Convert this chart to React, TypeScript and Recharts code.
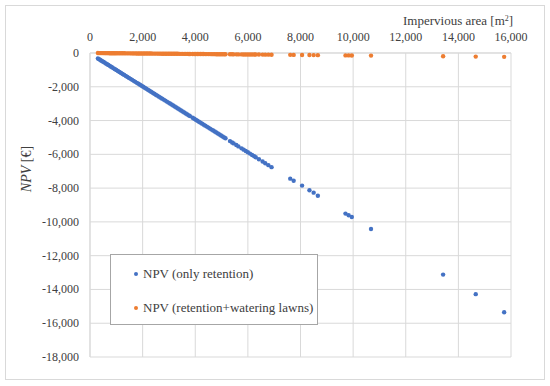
import {
  CartesianGrid,
  Legend,
  Scatter,
  ScatterChart,
  XAxis,
  YAxis,
} from "recharts";

// impervious area [m2] of each site
const areas = [
  300, 340, 380, 420, 460, 500, 550, 600, 650, 700, 750, 800, 850, 900, 950, 1000,
  1060, 1120, 1180, 1240, 1300, 1360, 1420, 1480, 1540, 1600, 1660, 1720, 1780, 1840,
  1900, 1960, 2020, 2080, 2140, 2200, 2260, 2320, 2380, 2440, 2500, 2560, 2620, 2680,
  2740, 2800, 2860, 2920, 2980, 3040, 3100, 3160, 3220, 3280, 3340, 3400, 3460, 3520,
  3580, 3640, 3700, 3760, 3800, 3900, 3960, 4020, 4080, 4140, 4200, 4260, 4320, 4380,
  4440, 4500, 4560, 4620, 4680, 4740, 4800, 4860, 4920, 4980, 5040, 5100, 5150, 5320,
  5400, 5460, 5560, 5640, 5760, 5840, 5920, 6000, 6080, 6160, 6240, 6300, 6420, 6560,
  6660, 6780, 6900, 7610, 7740, 8060, 8340, 8500, 8660, 9710, 9830, 9950, 10680, 13420,
  14660, 15740,
];

const npvRetention = [
  -323, -362, -401, -440, -479, -518, -566, -615, -664, -713, -761, -810, -859, -908, -956, -1005,
  -1064, -1122, -1181, -1239, -1298, -1356, -1415, -1473, -1532, -1590, -1649, -1707, -1766, -1824,
  -1883, -1941, -2000, -2058, -2117, -2175, -2234, -2292, -2351, -2409, -2468, -2526, -2585, -2643,
  -2702, -2760, -2819, -2877, -2936, -2994, -3053, -3111, -3170, -3228, -3287, -3345, -3404, -3462,
  -3521, -3579, -3638, -3696, -3735, -3833, -3891, -3950, -4008, -4067, -4125, -4184, -4242, -4301,
  -4359, -4418, -4476, -4535, -4593, -4652, -4710, -4769, -4827, -4886, -4944, -5003, -5051, -5217,
  -5295, -5354, -5451, -5529, -5646, -5724, -5802, -5880, -5958, -6036, -6114, -6173, -6290, -6426,
  -6524, -6641, -6758, -7440, -7560, -7850, -8130, -8270, -8450, -9510, -9610, -9710, -10420, -13120,
  -14280, -15350,
];

const npvWatering = [
  -4, -5, -6, -6, -7, -7, -8, -9, -9, -10, -11, -12, -12, -13, -14, -15,
  -15, -16, -17, -18, -19, -20, -21, -21, -22, -23, -24, -25, -26, -27,
  -28, -28, -29, -30, -31, -32, -33, -34, -35, -35, -36, -37, -38, -39,
  -40, -41, -41, -42, -43, -44, -45, -46, -47, -48, -48, -49, -50, -51,
  -52, -53, -54, -55, -55, -57, -57, -58, -59, -60, -61, -62, -63, -64,
  -64, -65, -66, -67, -68, -69, -70, -70, -71, -72, -73, -74, -75, -77,
  -78, -79, -81, -82, -84, -85, -86, -87, -88, -89, -90, -91, -93, -95,
  -97, -98, -100, -110, -112, -117, -121, -123, -126, -141, -143, -144, -155, -195,
  -213, -228,
];

const xTicks = [0, 2000, 4000, 6000, 8000, 10000, 12000, 14000, 16000];
const yTicks = [0, -2000, -4000, -6000, -8000, -10000, -12000, -14000, -16000, -18000];

const retentionData = areas.map((x, i) => ({ x, y: npvRetention[i] }));
const wateringData = areas.map((x, i) => ({ x, y: npvWatering[i] }));

const font = '"Liberation Serif", "DejaVu Serif", serif';
const textColor = "#404040";
const fmt = (v: number) => v.toLocaleString("en-US");

const dot = (color: string) => (props: any) =>
  <circle cx={props.cx} cy={props.cy} r={2.2} fill={color} />;

function XTick({ x, y, payload }: any) {
  return (
    <text x={x} y={y} textAnchor="middle" fill={textColor} style={{ fontFamily: font, fontSize: 12 }}>
      {fmt(payload.value)}
    </text>
  );
}

function YTick({ x, y, payload }: any) {
  return (
    <text x={x} y={y} dy={4} textAnchor="end" fill={textColor} style={{ fontFamily: font, fontSize: 12 }}>
      {fmt(payload.value)}
    </text>
  );
}

function LegendBox({ payload }: any) {
  return (
    <div
      style={{
        boxSizing: "border-box",
        width: 208,
        height: 71,
        paddingTop: 2,
        border: "1px solid #a6a6a6",
        background: "#fff",
        fontFamily: font,
        fontSize: 13,
        color: textColor,
      }}
    >
      {(payload || []).map((entry: any) => (
        <div key={entry.value} style={{ height: 34, display: "flex", alignItems: "center" }}>
          <span
            style={{
              display: "inline-block",
              width: 4,
              height: 4,
              borderRadius: 2,
              background: entry.color,
              marginLeft: 23,
              marginRight: 5,
            }}
          />
          <span>{entry.value}</span>
        </div>
      ))}
    </div>
  );
}

export default function App() {
  return (
    <div
      style={{
        position: "absolute",
        left: 5,
        top: 5,
        width: 538,
        height: 373,
        border: "1px solid #d9d9d9",
        background: "#fff",
        fontFamily: font,
      }}
    >
      <ScatterChart
        width={538}
        height={373}
        margin={{ top: 17, right: 33, bottom: 22, left: 24 }}
      >
        <CartesianGrid stroke="#d9d9d9" />
        <XAxis
          type="number"
          dataKey="x"
          orientation="top"
          domain={[0, 16000]}
          ticks={xTicks}
          height={30}
          tickLine={false}
          tickSize={6}
          tickMargin={6}
          axisLine={{ stroke: "#d9d9d9" }}
          tick={<XTick />}
        />
        <YAxis
          type="number"
          dataKey="y"
          domain={[-18000, 0]}
          ticks={yTicks}
          width={60}
          tickLine={false}
          tickSize={6}
          tickMargin={5}
          axisLine={{ stroke: "#d9d9d9" }}
          tick={<YTick />}
        />
        <Legend
          layout="vertical"
          align="center"
          verticalAlign="middle"
          content={<LegendBox />}
          wrapperStyle={{ left: 104, top: 248, width: 208, height: 71 }}
        />
        <Scatter
          name="NPV (only retention)"
          data={retentionData}
          fill="#4472c4"
          shape={dot("#4472c4")}
          isAnimationActive={false}
        />
        <Scatter
          name="NPV (retention+watering lawns)"
          data={wateringData}
          fill="#ed7d31"
          shape={dot("#ed7d31")}
          isAnimationActive={false}
        />
      </ScatterChart>
      <div
        style={{
          position: "absolute",
          left: 397,
          top: 5,
          lineHeight: "20px",
          fontFamily: font,
          fontSize: 13,
          color: textColor,
          whiteSpace: "nowrap",
        }}
      >
        Impervious area [m<sup style={{ fontSize: 8, verticalAlign: "4px", lineHeight: 0 }}>2</sup>]
      </div>
      <div
        style={{
          position: "absolute",
          left: 21,
          top: 163,
          transform: "translate(-50%, -50%) rotate(-90deg)",
          fontFamily: font,
          fontSize: 14,
          color: textColor,
          whiteSpace: "nowrap",
        }}
      >
        <i>NPV</i> [€]
      </div>
    </div>
  );
}
